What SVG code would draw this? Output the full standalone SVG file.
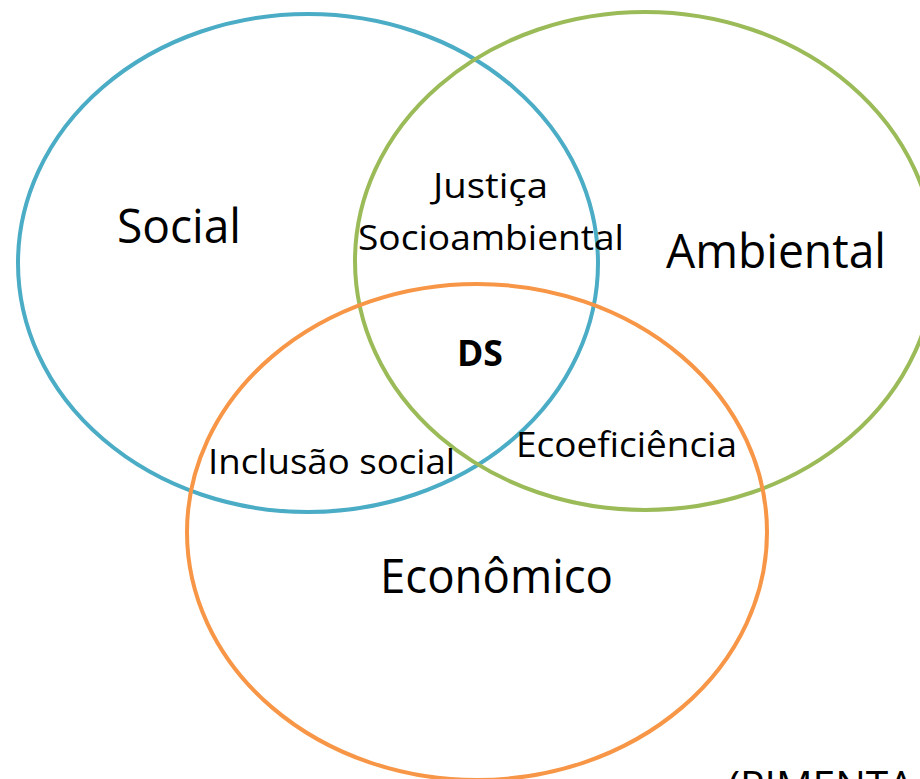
<svg xmlns="http://www.w3.org/2000/svg" width="920" height="779" viewBox="0 0 920 779">
<style>
.c{fill:none;stroke-width:4}
.t{font-family:"Open Sans","Noto Sans","Liberation Sans",sans-serif;fill:#000}
.big{font-size:48px}
.mid{font-size:35px}
</style>
<rect width="920" height="779" fill="#fff"/>
<g id="social"><ellipse class="c" cx="308" cy="263" rx="290" ry="249" stroke="#4BACC6"/></g>
<g id="ambiental"><ellipse class="c" cx="645" cy="261" rx="290" ry="249" stroke="#9BBB59"/></g>
<g id="economico"><ellipse class="c" cx="477" cy="532" rx="290" ry="248" stroke="#F79646"/></g>
<g id="labels">
<text class="t big" x="117" y="243" textLength="124" lengthAdjust="spacingAndGlyphs">Social</text>
<text class="t big" x="666" y="268" textLength="220" lengthAdjust="spacingAndGlyphs">Ambiental</text>
<text class="t big" x="380" y="593" textLength="233" lengthAdjust="spacingAndGlyphs">Econômico</text>
<text class="t mid" x="433" y="198" textLength="115" lengthAdjust="spacingAndGlyphs">Justiça</text>
<text class="t mid" x="358" y="250" textLength="266" lengthAdjust="spacingAndGlyphs">Socioambiental</text>
<text class="t mid" x="457" y="366" font-weight="bold" textLength="46" lengthAdjust="spacingAndGlyphs">DS</text>
<text class="t mid" x="208" y="474" textLength="247" lengthAdjust="spacingAndGlyphs">Inclusão social</text>
<text class="t mid" x="516" y="457" textLength="221" lengthAdjust="spacingAndGlyphs">Ecoeficiência</text>
<text class="t" font-size="40" x="728" y="800" textLength="186" lengthAdjust="spacingAndGlyphs">(PIMENTA</text>
</g>
</svg>
